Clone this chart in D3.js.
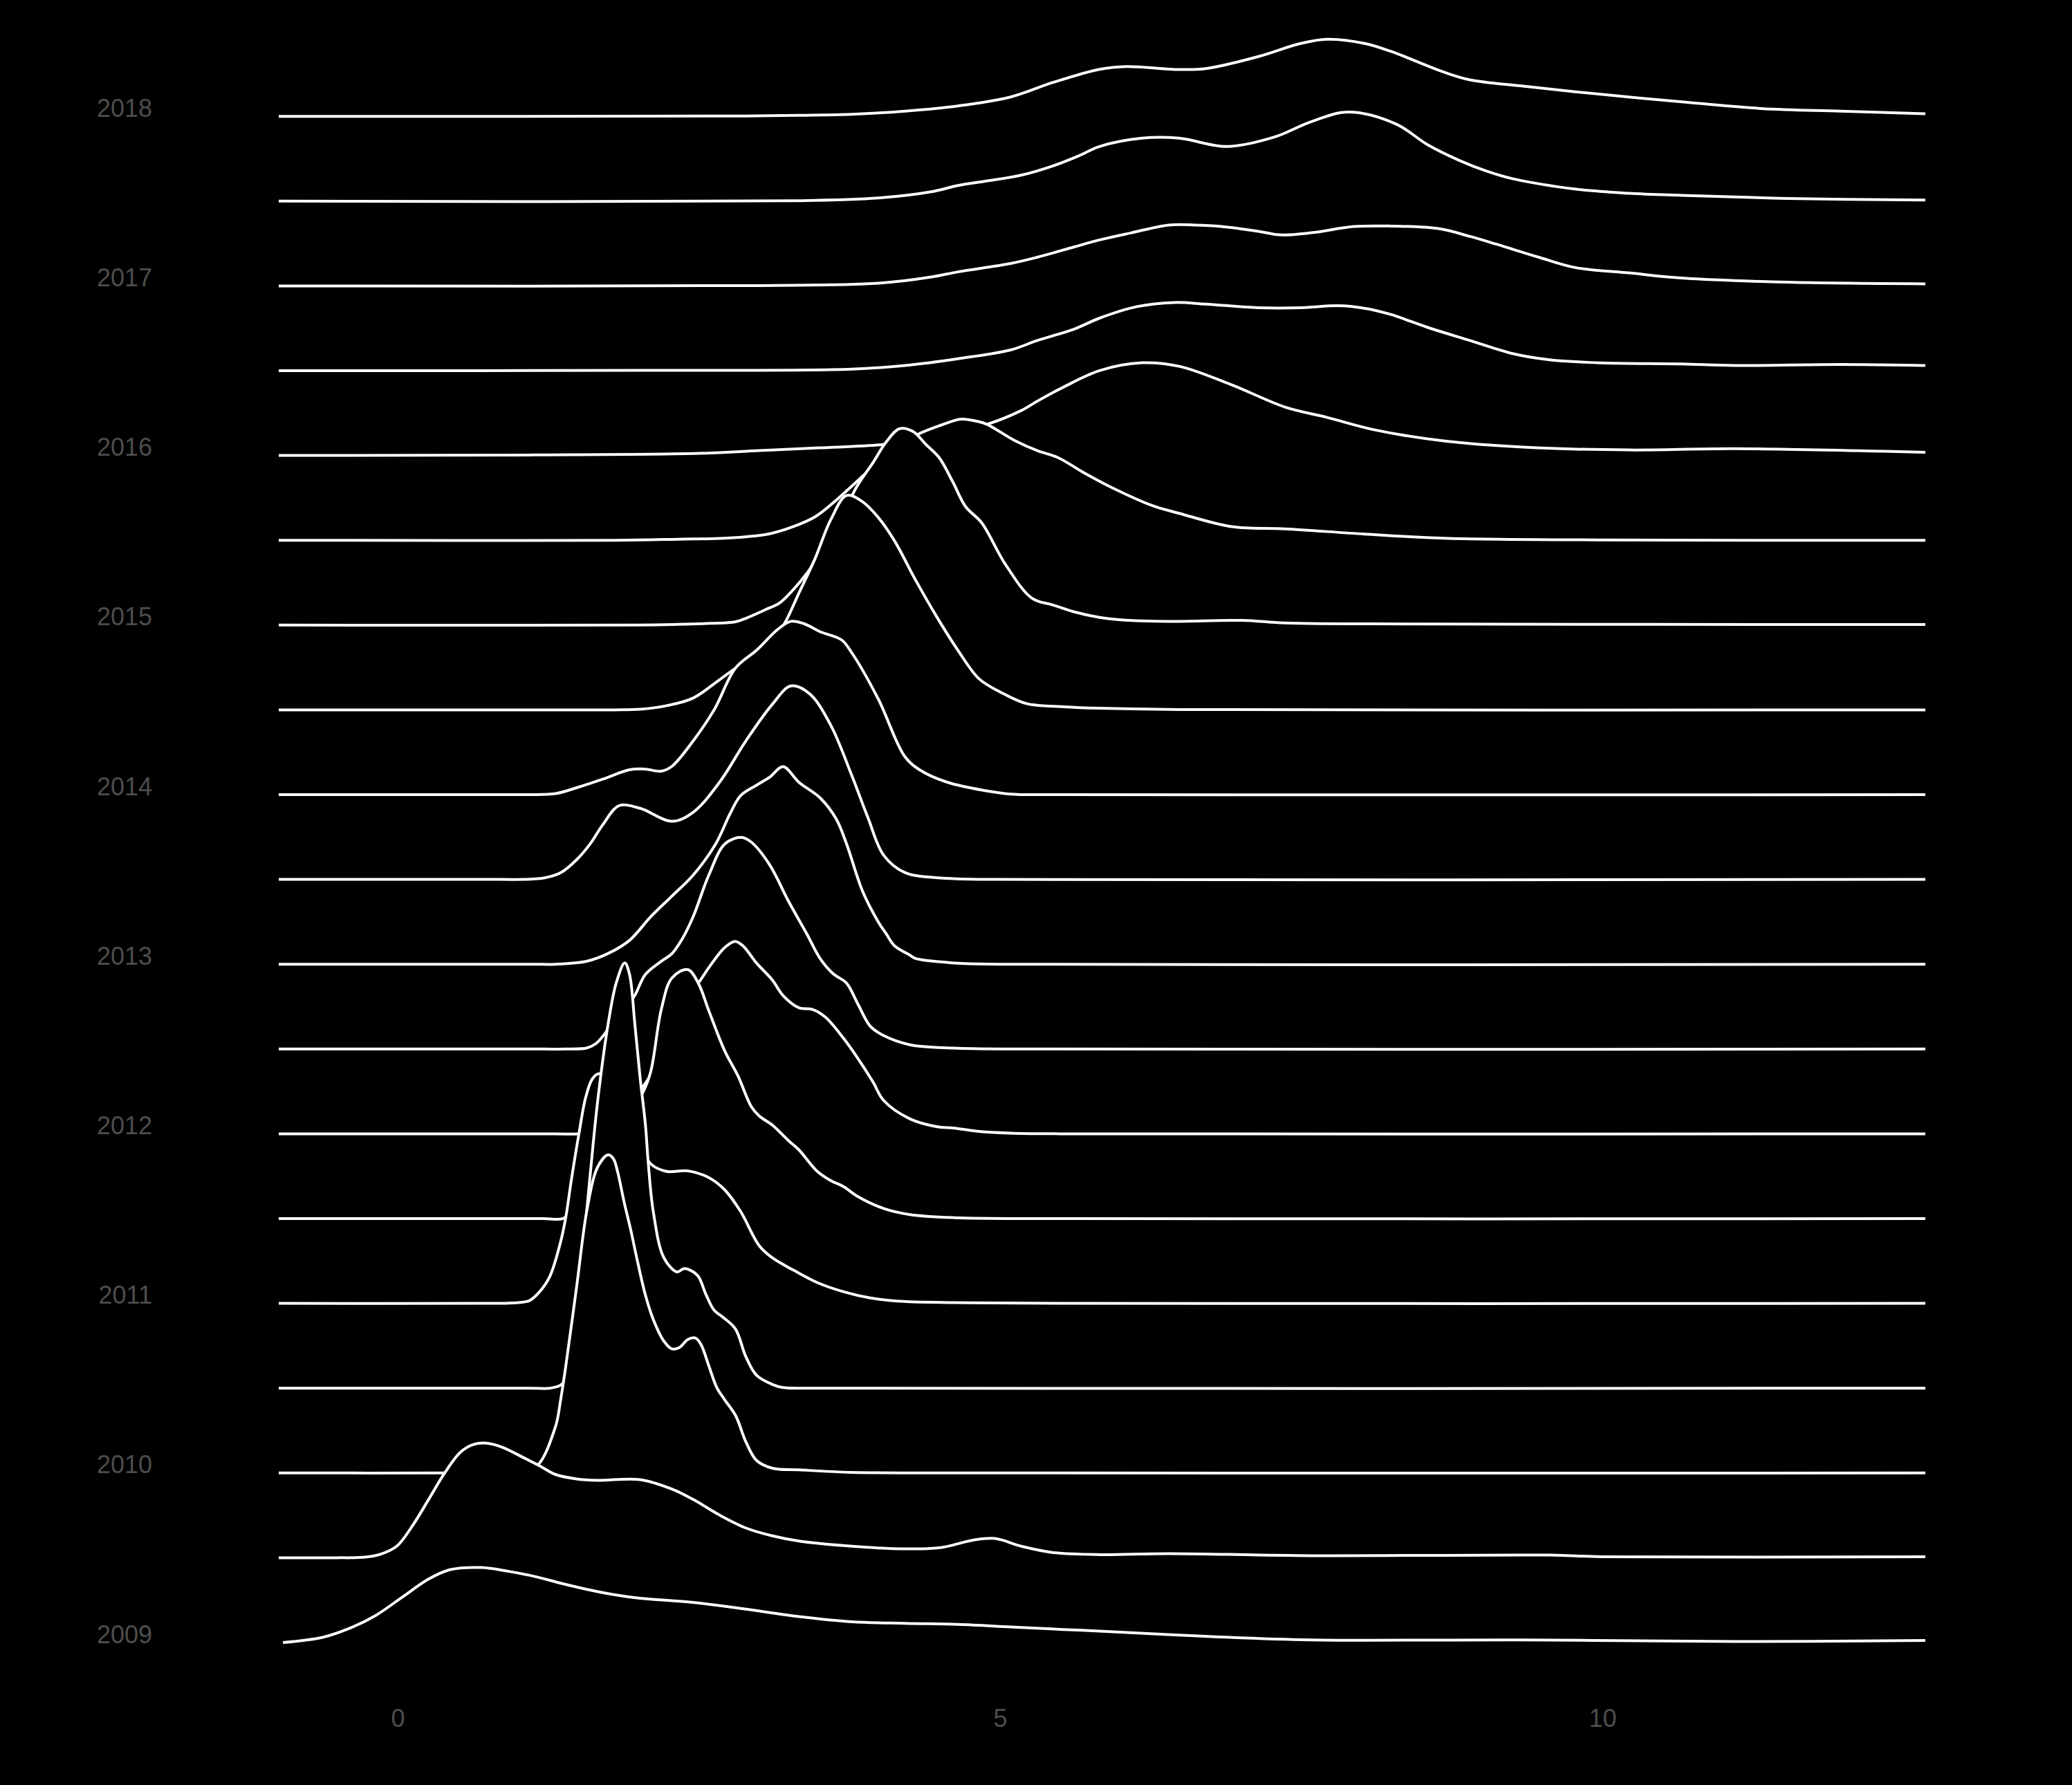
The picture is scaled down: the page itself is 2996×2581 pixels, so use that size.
<!DOCTYPE html>
<html><head><meta charset="utf-8">
<script src="https://cdn.jsdelivr.net/npm/d3@7"></script>
<style>html,body{margin:0;padding:0;background:#000;}svg{display:block;}</style>
</head><body>
<script>
// ---- data ----
const years = [2009, 2009.5, 2010, 2010.5, 2011, 2011.5, 2012, 2012.5, 2013, 2013.5, 2014, 2014.5, 2015, 2015.5, 2016, 2016.5, 2017, 2017.5, 2018];
const yTicks = [2009, 2010, 2011, 2012, 2013, 2014, 2015, 2016, 2017, 2018];
const xTicks = [0, 5, 10];

const r2009 = [[-0.952,0],[-0.623,0.075],[-0.403,0.203],[-0.183,0.391],[0.036,0.654],[0.256,0.917],[0.432,1.052],[0.695,1.084],[0.915,1.031],[1.135,0.956],[1.354,0.858],[1.574,0.768],[1.794,0.693],[2.013,0.64],[2.452,0.58],[2.892,0.482],[3.331,0.376],[3.77,0.301],[4.21,0.278],[4.649,0.263],[5.088,0.226],[5.528,0.188],[5.826,0.166],[6.706,0.09],[7.584,0.038],[9.341,0.038],[11.1,0.015],[12.68,0.03]];
const r2009h = [[-0.987,0],[-0.5,0],[-0.271,0.008],[-0.139,0.053],[-0.008,0.166],[0.124,0.466],[0.256,0.84],[0.388,1.22],[0.52,1.525],[0.629,1.638],[0.739,1.656],[0.871,1.596],[1.047,1.445],[1.178,1.33],[1.31,1.204],[1.486,1.14],[1.662,1.12],[2.013,1.13],[2.277,0.993],[2.452,0.843],[2.672,0.617],[2.892,0.429],[3.111,0.316],[3.331,0.241],[3.77,0.166],[4.21,0.128],[4.517,0.15],[4.781,0.256],[4.957,0.278],[5.176,0.166],[5.44,0.075],[5.826,0.045],[6.398,0.06],[7.584,0.03],[9.561,0.038],[10.0,0.015],[12.68,0.015]];
const r2010 = [[-0.987,0],[0.4,0],[0.8,0.005],[1.0,0.02],[1.157,0.105],[1.31,0.67],[1.352,1.05],[1.398,1.575],[1.486,2.70],[1.574,3.83],[1.662,4.43],[1.748,4.60],[1.792,4.54],[1.825,4.36],[1.88,3.914],[1.935,3.512],[1.99,3.066],[2.056,2.575],[2.122,2.218],[2.21,1.905],[2.276,1.794],[2.341,1.816],[2.407,1.928],[2.473,1.95],[2.517,1.86],[2.583,1.548],[2.649,1.235],[2.715,1.057],[2.805,0.83],[2.892,0.444],[2.979,0.18],[3.111,0.068],[3.331,0.045],[3.77,0.008],[4.5,0],[12.68,0]];
const r2010h = [[-0.987,0],[1.1,0],[1.266,0],[1.354,0.045],[1.42,0.196],[1.464,0.72],[1.53,1.85],[1.596,3.05],[1.662,4.18],[1.75,5.30],[1.816,5.87],[1.885,6.15],[1.925,5.98],[1.969,5.26],[2.013,4.48],[2.057,3.80],[2.079,3.28],[2.122,2.55],[2.21,1.885],[2.319,1.68],[2.374,1.728],[2.428,1.706],[2.495,1.617],[2.56,1.35],[2.627,1.126],[2.692,1.036],[2.803,0.858],[2.89,0.456],[2.978,0.188],[3.11,0.054],[3.198,0.01],[3.6,0],[12.68,0]];
const r2011 = [[-0.987,0],[0.718,0],[0.947,0.005],[1.091,0.038],[1.177,0.166],[1.263,0.39],[1.352,0.886],[1.395,1.24],[1.441,1.776],[1.504,2.446],[1.561,2.98],[1.616,3.246],[1.67,3.32],[1.75,3.25],[1.85,3.0],[1.95,2.6],[2.03,2.25],[2.099,2.02],[2.231,1.909],[2.407,1.917],[2.583,1.819],[2.715,1.641],[2.847,1.328],[3.0,0.837],[3.11,0.659],[3.286,0.48],[3.483,0.301],[3.703,0.167],[3.923,0.078],[4.142,0.034],[4.621,0.011],[5.5,0],[12.68,0]];
const r2011h = [[-0.987,0],[1.2,0],[1.37,0],[1.45,0.1],[1.55,0.3],[1.65,0.6],[1.75,0.95],[1.85,1.3],[1.95,1.6],[2.034,1.82],[2.1,2.12],[2.189,3.03],[2.277,3.48],[2.408,3.6],[2.495,3.406],[2.583,3.004],[2.715,2.424],[2.824,2.066],[2.935,1.62],[3.0,1.486],[3.11,1.352],[3.242,1.13],[3.33,0.995],[3.483,0.683],[3.594,0.55],[3.703,0.46],[3.813,0.325],[4.033,0.147],[4.253,0.058],[4.621,0.013],[5.5,0],[12.68,0]];
const r2012 = [[-0.987,0],[1.3,0],[1.504,0],[1.6,0.03],[1.7,0.1],[1.8,0.22],[1.9,0.4],[2.0,0.6],[2.1,0.85],[2.2,1.25],[2.3,1.7],[2.4,2.0],[2.495,2.18],[2.583,2.403],[2.715,2.694],[2.802,2.782],[2.868,2.715],[2.978,2.47],[3.11,2.224],[3.198,2.001],[3.33,1.823],[3.44,1.8],[3.549,1.689],[3.703,1.376],[3.813,1.108],[3.945,0.751],[4.033,0.484],[4.253,0.215],[4.472,0.104],[4.621,0.082],[4.8,0.04],[5.09,0.01],[5.5,0],[12.68,0]];
const r2012h = [[-0.987,0],[1.2,0],[1.4,0],[1.572,0.016],[1.649,0.083],[1.748,0.284],[1.85,0.5],[1.93,0.68],[1.97,0.78],[2.057,1.08],[2.189,1.27],[2.277,1.38],[2.365,1.6],[2.452,1.91],[2.584,2.52],[2.716,2.965],[2.852,3.06],[2.936,2.99],[3.089,2.66],[3.243,2.14],[3.395,1.668],[3.506,1.31],[3.615,1.088],[3.725,0.954],[3.82,0.65],[3.923,0.329],[4.033,0.195],[4.253,0.061],[4.621,0.013],[5.2,0],[12.68,0]];
const r2013 = [[-0.987,0],[1.1,0],[1.31,0],[1.573,0.045],[1.75,0.158],[1.925,0.346],[2.1,0.685],[2.277,0.986],[2.452,1.287],[2.64,1.74],[2.76,2.18],[2.848,2.44],[2.98,2.59],[3.089,2.705],[3.199,2.856],[3.331,2.63],[3.507,2.405],[3.639,2.104],[3.726,1.74],[3.858,1.06],[3.99,0.61],[4.055,0.44],[4.122,0.27],[4.253,0.13],[4.298,0.083],[4.621,0.018],[5.0,0],[12.68,0]];
const r2013h = [[-0.987,0],[0.85,0],[1.047,0],[1.222,0.023],[1.354,0.098],[1.486,0.286],[1.596,0.51],[1.706,0.80],[1.837,1.066],[2.013,1.028],[2.277,0.84],[2.452,0.97],[2.672,1.406],[2.892,2.008],[3.111,2.535],[3.265,2.798],[3.419,2.685],[3.595,2.23],[3.77,1.5],[3.902,0.9],[4.034,0.35],[4.21,0.1],[4.56,0.015],[5.0,0],[12.68,0]];
const r2014 = [[-0.987,0],[0.9,0],[1.1,0],[1.31,0.015],[1.486,0.10],[1.706,0.226],[1.925,0.36],[2.05,0.37],[2.189,0.34],[2.277,0.41],[2.452,0.775],[2.628,1.23],[2.804,1.83],[2.98,2.09],[3.155,2.39],[3.265,2.506],[3.375,2.47],[3.507,2.355],[3.683,2.24],[3.77,2.05],[3.99,1.38],[4.21,0.55],[4.341,0.35],[4.561,0.18],[4.869,0.06],[5.088,0.008],[5.5,0],[12.68,0]];
const r2014h = [[-0.987,0],[1.6,0],[1.8,0],[2.013,0.008],[2.233,0.06],[2.452,0.17],[2.672,0.436],[2.804,0.6],[2.98,0.78],[3.111,0.98],[3.221,1.28],[3.331,1.69],[3.463,2.18],[3.595,2.75],[3.727,3.10],[3.858,3.01],[3.99,2.78],[4.122,2.45],[4.298,1.88],[4.473,1.35],[4.649,0.865],[4.825,0.45],[5.0,0.26],[5.22,0.09],[5.528,0.045],[5.826,0.023],[6.5,0.005],[12.68,0]];
const r2015 = [[-0.987,0],[2.0,0],[2.325,0.01],[2.6,0.025],[2.8,0.045],[2.9,0.105],[3.05,0.22],[3.17,0.32],[3.28,0.505],[3.4,0.755],[3.463,0.92],[3.55,1.15],[3.639,1.41],[3.814,2.01],[3.946,2.35],[4.056,2.65],[4.166,2.84],[4.276,2.8],[4.386,2.61],[4.495,2.42],[4.605,2.08],[4.715,1.71],[4.847,1.48],[5.044,0.88],[5.264,0.39],[5.44,0.29],[5.616,0.19],[5.826,0.11],[6.003,0.075],[6.398,0.053],[7.013,0.068],[7.365,0.03],[8.463,0.015],[12.68,0.008]];
const r2015h = [[-0.987,0],[1.8,0],[2.325,0.015],[2.71,0.029],[2.9,0.052],[3.09,0.095],[3.28,0.195],[3.47,0.345],[3.66,0.61],[3.78,0.8],[3.913,1.012],[4.122,1.32],[4.315,1.529],[4.506,1.662],[4.678,1.752],[4.812,1.719],[4.889,1.679],[5.119,1.445],[5.31,1.295],[5.482,1.195],[5.693,0.979],[5.884,0.8],[6.266,0.50],[6.486,0.39],[6.925,0.196],[7.365,0.165],[8.024,0.09],[8.683,0.03],[10,0.005],[12.68,0]];
const r2016 = [[-0.987,0],[1.135,0.0075],[2.5,0.03],[3.0,0.07],[3.5,0.11],[4.0,0.153],[4.21,0.196],[4.429,0.27],[4.649,0.35],[4.891,0.45],[5.176,0.65],[5.31,0.786],[5.528,0.99],[5.826,1.227],[6.178,1.34],[6.486,1.29],[6.925,1.02],[7.365,0.70],[7.716,0.55],[8.111,0.37],[8.683,0.21],[9.341,0.12],[10.22,0.08],[11.1,0.098],[12.68,0.045]];
const r2016h = [[-0.987,0],[2.0,0.005],[3.77,0.023],[4.21,0.075],[4.649,0.173],[5.088,0.30],[5.308,0.436],[5.616,0.602],[5.826,0.76],[6.135,0.926],[6.442,0.986],[6.706,0.963],[7.145,0.91],[7.496,0.91],[7.804,0.94],[8.024,0.903],[8.243,0.813],[8.551,0.625],[8.902,0.436],[9.254,0.248],[9.561,0.158],[10.0,0.113],[10.66,0.098],[11.1,0.075],[11.98,0.09],[12.68,0.075]];
const r2017 = [[-0.987,0],[3.0,0.005],[3.99,0.038],[4.429,0.128],[4.649,0.203],[5.088,0.324],[5.308,0.414],[5.616,0.564],[5.826,0.665],[6.091,0.768],[6.398,0.88],[6.618,0.88],[6.837,0.86],[7.145,0.79],[7.321,0.738],[7.584,0.768],[7.936,0.858],[8.243,0.865],[8.639,0.828],[8.902,0.715],[9.122,0.602],[9.473,0.414],[9.781,0.263],[10.22,0.188],[10.66,0.113],[11.54,0.053],[12.68,0.03]];
const r2017h = [[-0.987,0],[3.3,0.005],[3.99,0.045],[4.429,0.135],[4.649,0.226],[4.869,0.286],[5.176,0.376],[5.44,0.51],[5.66,0.66],[5.826,0.79],[6.178,0.91],[6.486,0.91],[6.881,0.79],[7.277,0.926],[7.584,1.15],[7.892,1.287],[8.287,1.114],[8.551,0.813],[8.814,0.587],[9.034,0.436],[9.254,0.324],[9.781,0.173],[10.22,0.113],[10.66,0.083],[11.54,0.038],[12.68,0.015]];
const r2018 = [[-0.987,0],[2.892,0.005],[3.331,0.015],[3.77,0.03],[4.21,0.075],[4.649,0.15],[5.088,0.28],[5.44,0.49],[5.826,0.68],[6.047,0.72],[6.486,0.677],[6.706,0.69],[7.145,0.865],[7.496,1.054],[7.716,1.114],[8.024,1.054],[8.243,0.94],[8.683,0.64],[8.902,0.527],[9.341,0.436],[10.0,0.316],[10.66,0.21],[11.32,0.113],[11.98,0.075],[12.68,0.038]];

const ridges = [r2009, r2009h, r2010, r2010h, r2011, r2011h, r2012, r2012h, r2013, r2013h, r2014, r2014h, r2015, r2015h, r2016, r2016h, r2017, r2017h, r2018];

// ---- chart ----
const W = 2996, H = 2581;
const FONT = "'Liberation Sans', Arial, Helvetica, sans-serif";
const svg = d3.select("body").append("svg").attr("width", W).attr("height", H);
svg.append("rect").attr("width", W).attr("height", H).attr("fill", "#000");

const x = d3.scaleLinear().domain([0, 10]).range([575, 2317]);
const y = d3.scaleLinear().domain([2009, 2018]).range([2375, 168.2]);
const hgt = d3.scaleLinear().domain([0, 1]).range([0, 100]);
const curve = d3.curveCatmullRom.alpha(0.5);

const ridgeG = svg.append("g");
d3.range(years.length).reverse().forEach(i => {
  const base = y(years[i]);
  const area = d3.area().x(d => x(d[0])).y0(base).y1(d => base - hgt(d[1])).curve(curve);
  const line = d3.line().x(d => x(d[0])).y(d => base - hgt(d[1])).curve(curve);
  const g = ridgeG.append("g");
  g.append("path").attr("d", area(ridges[i])).attr("fill", "#000");
  g.append("path").attr("d", line(ridges[i])).attr("fill", "none")
    .attr("stroke", "#fff").attr("stroke-width", 4);
});

// y axis labels
svg.append("g").attr("transform", "translate(220,0)")
  .call(d3.axisLeft(y).tickValues(yTicks).tickFormat(d3.format("d")).tickSize(0).tickPadding(0))
  .call(g => g.select(".domain").remove())
  .call(g => g.attr("font-family", FONT).attr("font-size", 36))
  .call(g => g.selectAll("text").attr("dy", null).attr("fill", "#4d4d4d"));

// x axis labels
svg.append("g").attr("transform", "translate(0,2497)")
  .call(d3.axisBottom(x).tickValues(xTicks).tickSize(0).tickPadding(0))
  .call(g => g.select(".domain").remove())
  .call(g => g.attr("font-family", FONT).attr("font-size", 36))
  .call(g => g.selectAll("text").attr("dy", null).attr("y", 0).attr("fill", "#4d4d4d"));
</script>
</body></html>
